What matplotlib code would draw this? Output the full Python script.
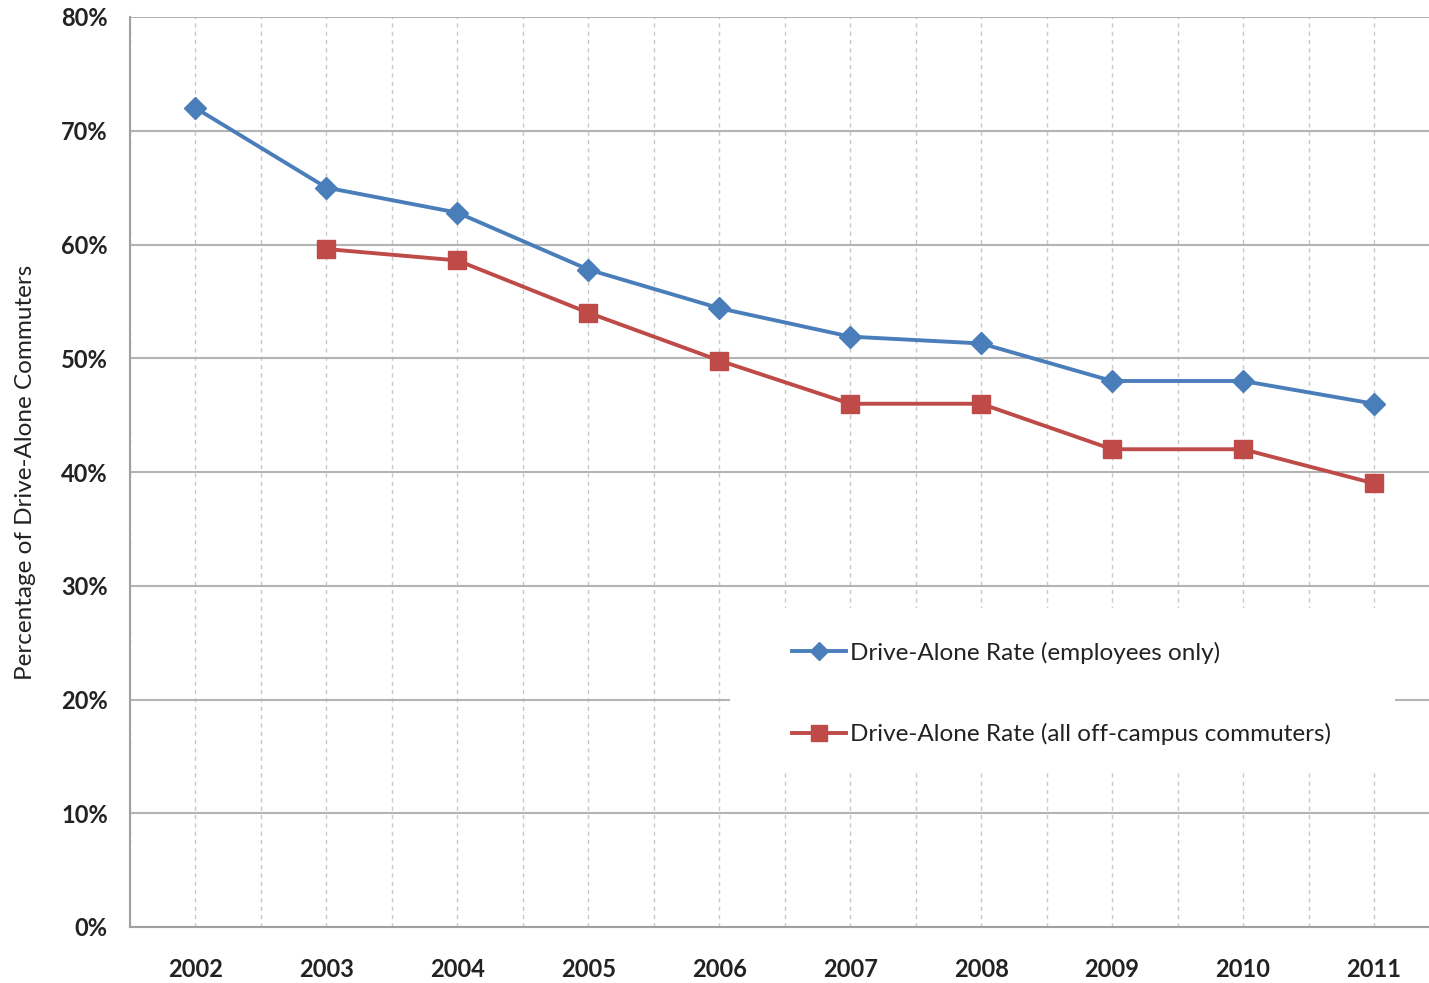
import matplotlib
matplotlib.use("Agg")
import matplotlib.pyplot as plt
from matplotlib.patches import Rectangle
from matplotlib.ticker import FuncFormatter, MultipleLocator

years = [2002, 2003, 2004, 2005, 2006, 2007, 2008, 2009, 2010, 2011]
employees = [72.0, 65.0, 62.8, 57.8, 54.4, 51.9, 51.3, 48.0, 48.0, 46.0]
red_years = [2003, 2004, 2005, 2006, 2007, 2008, 2009, 2010, 2011]
all_commuters = [59.6, 58.6, 54.0, 49.8, 46.0, 46.0, 42.0, 42.0, 39.0]
label_emp = "Drive-Alone Rate (employees only)"
label_all = "Drive-Alone Rate (all off-campus commuters)"

fig = plt.figure(figsize=(14.29, 9.83), dpi=100)
ax = fig.add_axes([130/1429, 56/983, 1 - 130/1429, 910/983])

ax.set_xlim(2001.5, 2011.42)
ax.set_ylim(0, 80)

# grid
ax.xaxis.set_major_locator(MultipleLocator(1))
ax.xaxis.set_minor_locator(MultipleLocator(0.5))
ax.yaxis.set_major_locator(MultipleLocator(10))
ax.grid(which='minor', axis='x', color='#c8c8c8', linestyle=(0, (3, 3)), linewidth=1.0)
ax.grid(which='major', axis='x', color='#c8c8c8', linestyle=(0, (3, 3)), linewidth=1.0)
ax.grid(which='major', axis='y', color='#b4b4b4', linestyle='-', linewidth=1.5)
ax.set_axisbelow(True)

# white legend area covering grid
ax.add_patch(Rectangle((0.462, 0.1725), 0.512, 0.178, transform=ax.transAxes,
                       facecolor='white', edgecolor='none', zorder=1.5))

ax.plot(years, employees, color='#4a7ebb', linewidth=2.8, marker='D', markersize=11,
        label=label_emp, zorder=3)
ax.plot(red_years, all_commuters, color='#be4b48', linewidth=2.8, marker='s', markersize=13.5,
        label=label_all, zorder=3)

for s in ['top', 'right']:
    ax.spines[s].set_visible(False)
for s in ['left', 'bottom']:
    ax.spines[s].set_color('#a0a0a0')
    ax.spines[s].set_linewidth(1.5)

ax.yaxis.set_major_formatter(FuncFormatter(lambda v, p: f"{int(v)}%"))
ax.tick_params(which='both', length=0)
ax.tick_params(axis='y', pad=16)
ax.tick_params(axis='x', pad=22)
for lab in ax.get_xticklabels() + ax.get_yticklabels():
    lab.set_fontfamily('Lato')
    lab.set_fontweight('bold')
    lab.set_fontsize(17)
    lab.set_color('#222222')

ax.set_ylabel("Percentage of Drive-Alone Commuters", fontsize=17.5, family='Lato',
              color='#222222')
ax.yaxis.set_label_coords(-0.072, 0.5)

leg = ax.legend(loc='upper left', bbox_to_anchor=(0.5, 0.327), frameon=False,
                prop={'family': 'Lato', 'size': 17.5}, handlelength=2.25,
                handletextpad=0.15, labelspacing=2.45, borderpad=0,
                markerscale=0.85)
for t in leg.get_texts():
    t.set_color('#222222')
leg.set_zorder(4)

fig.savefig("out.png", dpi=100)
